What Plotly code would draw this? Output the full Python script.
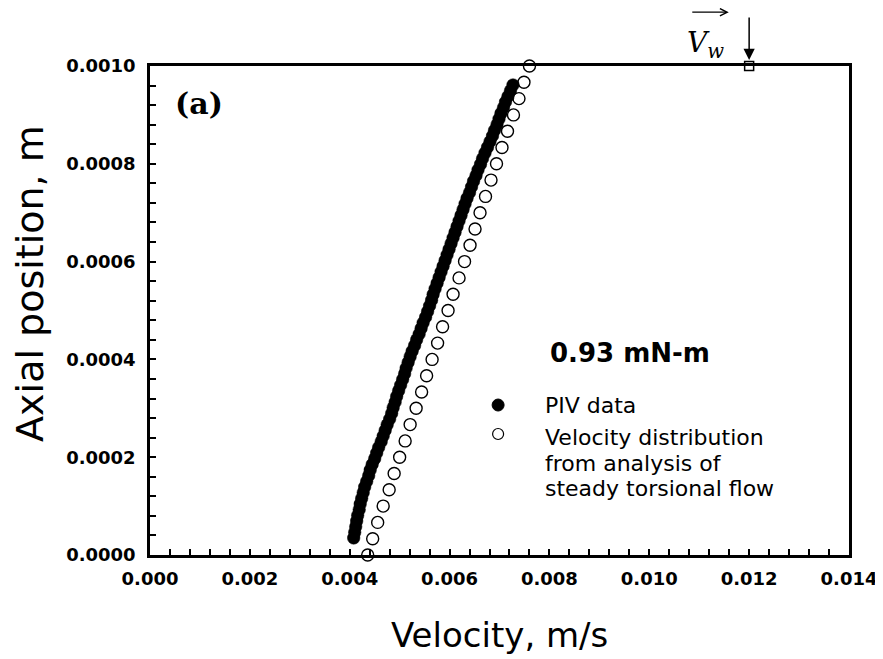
import plotly.graph_objects as go

# PIV data (filled circles): axial position in micrometres, velocity in mm/s
PIV_Z_UM = [34.8, 46.4, 58.0, 69.5, 81.1, 92.7, 104.3, 115.9, 127.4, 139.0,
            150.6, 162.2, 173.8, 185.3, 196.9, 208.5, 220.1, 231.7, 243.2, 254.8,
            266.4, 278.0, 289.6, 301.1, 312.7, 324.3, 335.9, 347.5, 359.0, 370.6,
            382.2, 393.8, 405.4, 416.9, 428.5, 440.1, 451.7, 463.3, 474.8, 486.4,
            498.0, 509.6, 521.2, 532.7, 544.3, 555.9, 567.5, 579.0, 590.6, 602.2,
            613.8, 625.4, 636.9, 648.5, 660.1, 671.7, 683.3, 694.8, 706.4, 718.0,
            729.6, 741.2, 752.7, 764.3, 775.9, 787.5, 799.1, 810.6, 822.2, 833.8,
            845.4, 857.0, 868.5, 880.1, 891.7, 903.3, 914.9, 926.4, 938.0, 949.6,
            961.2]
PIV_V_MMS = [4.08, 4.10, 4.12, 4.14, 4.16, 4.19, 4.21, 4.24, 4.27, 4.30,
             4.34, 4.38, 4.41, 4.45, 4.50, 4.54, 4.58, 4.63, 4.67, 4.71,
             4.75, 4.80, 4.84, 4.87, 4.91, 4.94, 4.98, 5.02, 5.06, 5.10,
             5.13, 5.17, 5.21, 5.25, 5.30, 5.34, 5.39, 5.43, 5.47, 5.52,
             5.56, 5.60, 5.64, 5.67, 5.71, 5.75, 5.79, 5.83, 5.87, 5.91,
             5.95, 5.99, 6.03, 6.07, 6.11, 6.15, 6.19, 6.23, 6.27, 6.31,
             6.35, 6.40, 6.44, 6.48, 6.53, 6.57, 6.62, 6.66, 6.71, 6.76,
             6.81, 6.86, 6.90, 6.95, 6.99, 7.03, 7.08, 7.12, 7.17, 7.22,
             7.27]

# steady torsional flow analysis (open circles)
MODEL_Z_UM = [0.0, 33.3, 66.7, 100.0, 133.3, 166.7, 200.0, 233.3, 266.7, 300.0,
              333.3, 366.7, 400.0, 433.3, 466.7, 500.0, 533.3, 566.7, 600.0, 633.3,
              666.7, 700.0, 733.3, 766.7, 800.0, 833.3, 866.7, 900.0, 933.3, 966.7,
              1000.0]
MODEL_V_MMS = [4.36, 4.46, 4.56, 4.67, 4.79, 4.89, 5.00, 5.11, 5.21, 5.33,
               5.44, 5.54, 5.65, 5.76, 5.86, 5.97, 6.07, 6.19, 6.30, 6.41,
               6.51, 6.61, 6.72, 6.83, 6.94, 7.05, 7.16, 7.28, 7.39, 7.49,
               7.60]

# wall velocity marker
WALL_V = [0.012]
WALL_Z = [0.0010]

TORQUE_LABEL = "0.93 mN-m"
LEGEND_LINES = ["PIV data", "Velocity distribution", "from analysis of",
                "steady torsional flow"]

SANS = "DejaVu Sans"
SERIF = "DejaVu Serif"

fig = go.Figure()

fig.add_trace(go.Scatter(
    x=[v / 1000 for v in MODEL_V_MMS], y=[z / 1e6 for z in MODEL_Z_UM],
    mode="markers", cliponaxis=False, showlegend=False,
    marker=dict(symbol="circle", size=12, color="white",
                line=dict(color="black", width=1.4))
))
fig.add_trace(go.Scatter(
    x=[v / 1000 for v in PIV_V_MMS], y=[z / 1e6 for z in PIV_Z_UM],
    mode="markers", cliponaxis=False, showlegend=False,
    marker=dict(symbol="circle", size=12.5, color="black",
                line=dict(color="black", width=0.5))
))
fig.add_trace(go.Scatter(
    x=WALL_V, y=WALL_Z, mode="markers", cliponaxis=False, showlegend=False,
    marker=dict(symbol="square", size=9, color="white",
                line=dict(color="black", width=1.5))
))

# down arrow onto the wall marker
fig.add_annotation(x=WALL_V[0], y=WALL_Z[0], xref="x", yref="y", text="",
                   showarrow=True, ax=0, ay=-50, arrowhead=2, arrowsize=1.5,
                   arrowwidth=1.5, arrowcolor="black", standoff=6)
# V_w label with vector arrow
fig.add_annotation(x=0.794, y=1.043, xref="paper", yref="paper",
                   xanchor="center", yanchor="middle",
                   text="<i>V<sub>w</sub></i>", showarrow=False,
                   font=dict(family=SERIF, size=28, color="black"))
fig.add_annotation(x=0.828, y=1.11, xref="paper", yref="paper", text="",
                   showarrow=True, ax=-38, ay=0, arrowhead=5, arrowsize=1.1,
                   arrowwidth=1.3, arrowcolor="black")

fig.add_annotation(x=0.07, y=0.924, xref="paper", yref="paper", text="<b>(a)</b>",
                   xanchor="center", yanchor="middle", showarrow=False,
                   font=dict(family=SERIF, size=30, color="black"))
fig.add_annotation(x=0.569, y=0.413, xref="paper", yref="paper", xanchor="left",
                   yanchor="middle", text="<b>" + TORQUE_LABEL + "</b>",
                   showarrow=False, font=dict(family=SANS, size=26, color="black"))

# legend
legend_y = [0.3067, 0.2393, 0.1881, 0.135]
for txt, ly in zip(LEGEND_LINES, legend_y):
    fig.add_annotation(x=0.562, y=ly, xref="paper", yref="paper", xanchor="left",
                       yanchor="middle", text=txt, showarrow=False,
                       font=dict(family=SANS, size=22, color="black"))
fig.add_shape(type="circle", xref="paper", yref="paper", xsizemode="pixel",
              ysizemode="pixel", xanchor=0.498, yanchor=0.3067,
              x0=-6, x1=6, y0=-6, y1=6, fillcolor="black",
              line=dict(color="black", width=1))
fig.add_shape(type="circle", xref="paper", yref="paper", xsizemode="pixel",
              ysizemode="pixel", xanchor=0.498, yanchor=0.2474,
              x0=-5.5, x1=5.5, y0=-5.5, y1=5.5, fillcolor="white",
              line=dict(color="black", width=1.2))

# axis titles
fig.add_annotation(x=0.5, y=-0.1636, xref="paper", yref="paper",
                   xanchor="center", yanchor="middle", text="Velocity, m/s",
                   showarrow=False, font=dict(family=SANS, size=34, color="black"))
fig.add_annotation(x=-0.172, y=0.556, xref="paper", yref="paper",
                   xanchor="center", yanchor="middle", textangle=-90,
                   text="Axial position, m", showarrow=False,
                   font=dict(family=SANS, size=38, color="black"))

tickfont = dict(family=SANS, size=18, color="black", weight="bold")
fig.update_xaxes(
    range=[0, 0.014], dtick=0.002, tickformat=".3f", tickfont=tickfont,
    ticks="inside", ticklen=6, tickwidth=1.5, tickcolor="black",
    minor=dict(dtick=0.0004, ticks="inside", ticklen=6, tickwidth=1.5,
               tickcolor="black"),
    showline=True, linecolor="black", linewidth=2.5, mirror=True,
    showgrid=False, zeroline=False, ticklabelstandoff=6
)
fig.update_yaxes(
    range=[0, 0.001], dtick=0.0002, tickformat=".4f", tickfont=tickfont,
    ticks="inside", ticklen=6, tickwidth=1.5, tickcolor="black",
    minor=dict(dtick=0.00004, ticks="inside", ticklen=6, tickwidth=1.5,
               tickcolor="black"),
    showline=True, linecolor="black", linewidth=2.5, mirror=True,
    showgrid=False, zeroline=False, ticklabelstandoff=8
)

fig.update_layout(
    width=883, height=659,
    margin=dict(l=142, r=42, t=58, b=112),
    plot_bgcolor="white", paper_bgcolor="white",
    showlegend=False
)

fig.write_html("out.html")
